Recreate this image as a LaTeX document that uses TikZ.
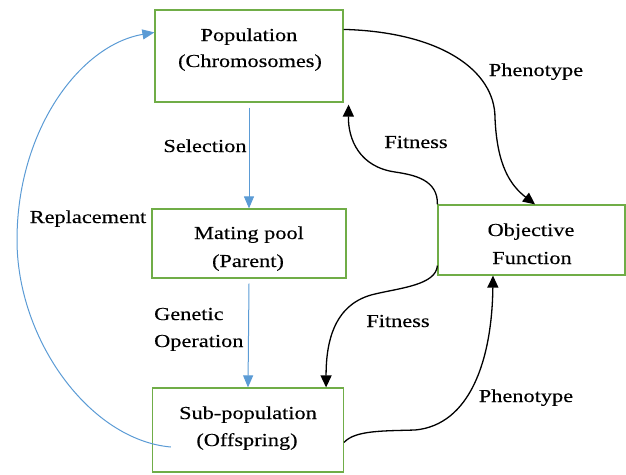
\documentclass[tikz,border=0pt]{standalone}
\usepackage{fontspec}
\setmainfont[FakeStretch=1.22,FakeBold=0.3]{Liberation Serif}
\usetikzlibrary{arrows.meta}
\definecolor{boxgreen}{RGB}{112,173,71}
\definecolor{flowblue}{RGB}{91,155,213}
\begin{document}
\begin{tikzpicture}[x=1pt,y=-1pt,
  box/.style={draw=boxgreen, line width=1.2pt, inner sep=0pt},
  txt/.style={font=\fontsize{18.3}{27}\selectfont, inner sep=0pt, anchor=base},
  bluearrow/.style={draw=flowblue, line width=1pt, -{Triangle[length=12pt,width=10pt]}},
  blackarrow/.style={draw=black, line width=1.3pt, -{Triangle[length=12pt,width=11pt]}}]
\useasboundingbox (0,0) rectangle (626,474);
% boxes
\node[box, minimum width=188pt, minimum height=92pt] (pop) at (249,56) {};
\node[box, minimum width=194pt, minimum height=69pt] (mat) at (249,243.5) {};
\node[box, minimum width=191pt, minimum height=84pt] (sub) at (248,430) {};
\node[box, minimum width=187pt, minimum height=70pt] (obj) at (531.5,240) {};
% box texts
\node[txt] (popA) at (249,41) {Population};
\node[txt] (popB) at (250,67) {(Chromosomes)};
\node[txt] (matA) at (249,239) {Mating pool};
\node[txt] (matB) at (248,267) {(Parent)};
\node[txt] (subA) at (248,419) {Sub-population};
\node[txt] (subB) at (247,446) {(Offspring)};
\node[txt] (objA) at (531,236) {Objective};
\node[txt] (objB) at (532,264) {Function};
% edge labels
\node[txt] (lsel) at (205,152) {Selection};
\node[txt] (lrep) at (88,223) {Replacement};
\node[txt, anchor=base west] (lgen) at (154,320) {Genetic};
\node[txt, anchor=base west] (lop) at (154,347) {Operation};
\node[txt] (lfit1) at (416,148) {Fitness};
\node[txt] (lfit2) at (398,327) {Fitness};
\node[txt] (lph1) at (536,76) {Phenotype};
\node[txt] (lph2) at (526,402) {Phenotype};
% blue arrows
\draw[bluearrow] ([yshift=-5pt]pop.south) -- (mat.north);
\draw[bluearrow] ([yshift=-5pt]mat.south) -- (sub.north);
\draw[bluearrow] ([xshift=19pt,yshift=-17pt]sub.west) .. controls (90,440) and (17,340) .. (17,240)
   .. controls (17,130) and (80,45) .. ([yshift=-23pt]pop.north west);
% black arrows
\draw[blackarrow] ([yshift=-20pt]pop.north east) .. controls (440,32) and (495,70) .. (495,118)
   .. controls (497,165) and (510,185) .. ([xshift=3.5pt]obj.north);
\draw[blackarrow] (obj.north west) .. controls (438,180) and (415,175) .. (395,172)
   .. controls (360,167) and (348,140) .. ([xshift=5pt,yshift=-2pt]pop.south east);
\draw[blackarrow] ([yshift=10pt]obj.south west) .. controls (436,285) and (400,288) .. (375,294)
   .. controls (335,303) and (326,340) .. ([xshift=-18pt]sub.north east);
\draw[blackarrow] ([yshift=-55pt]sub.north east) .. controls (355,430) and (385,431) .. (415,430)
   .. controls (470,425) and (492,360) .. ([xshift=-38.5pt]obj.south);
\end{tikzpicture}
\end{document}
